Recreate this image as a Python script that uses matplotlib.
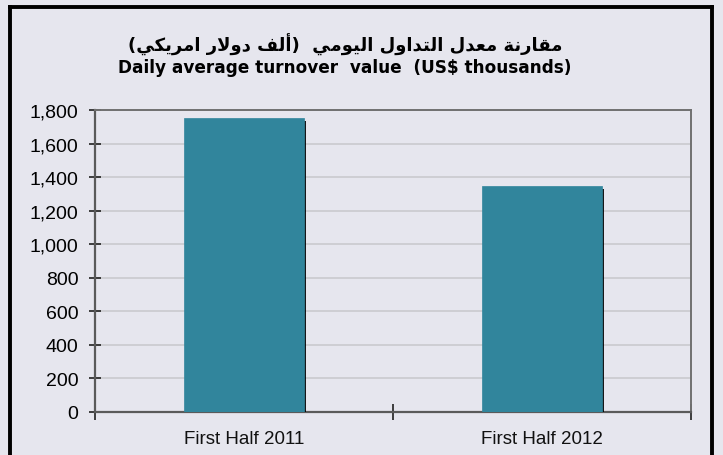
import matplotlib
matplotlib.use('Agg')
import matplotlib.pyplot as plt
import matplotlib.patheffects as pe
from matplotlib.lines import Line2D
from matplotlib.ticker import StrMethodFormatter, FixedLocator

# Data
categories = ['First Half 2011', 'First Half 2012']
values = [1752, 1347]

title_ar = 'مقارنة معدل التداول اليومي  (ألف دولار امريكي)'
title_en = 'Daily average turnover  value  (US$ thousands)'

# --- minimal Arabic shaping (matplotlib has no RTL/joining support) ---
FORMS = {  # isolated, final, initial, medial
    'ا': (0xFE8D, 0xFE8E, None, None),
    'أ': (0xFE83, 0xFE84, None, None),
    'د': (0xFEA9, 0xFEAA, None, None),
    'ر': (0xFEAD, 0xFEAE, None, None),
    'و': (0xFEED, 0xFEEE, None, None),
    'ة': (0xFE93, 0xFE94, None, None),
    'م': (0xFEE1, 0xFEE2, 0xFEE3, 0xFEE4),
    'ق': (0xFED5, 0xFED6, 0xFED7, 0xFED8),
    'ن': (0xFEE5, 0xFEE6, 0xFEE7, 0xFEE8),
    'ع': (0xFEC9, 0xFECA, 0xFECB, 0xFECC),
    'ل': (0xFEDD, 0xFEDE, 0xFEDF, 0xFEE0),
    'ت': (0xFE95, 0xFE96, 0xFE97, 0xFE98),
    'ي': (0xFEF1, 0xFEF2, 0xFEF3, 0xFEF4),
    'ف': (0xFED1, 0xFED2, 0xFED3, 0xFED4),
    'ك': (0xFED9, 0xFEDA, 0xFEDB, 0xFEDC),
}
LAM_ALEF = {'ا': (0xFEFB, 0xFEFC), 'أ': (0xFEF7, 0xFEF8)}
MIRROR = {'(': ')', ')': '('}


def joins_next(c):
    return c in FORMS and FORMS[c][2] is not None


def shape(text):
    out = []
    i = 0
    n = len(text)
    while i < n:
        c = text[i]
        prev = text[i - 1] if i > 0 else ''
        from_prev = joins_next(prev)
        if c == 'ل' and i + 1 < n and text[i + 1] in LAM_ALEF:
            out.append(chr(LAM_ALEF[text[i + 1]][1 if from_prev else 0]))
            i += 2
            continue
        if c in FORMS:
            iso, fin, ini, med = FORMS[c]
            to_next = joins_next(c) and i + 1 < n and text[i + 1] in FORMS
            if from_prev and to_next:
                g = med
            elif from_prev:
                g = fin
            elif to_next:
                g = ini
            else:
                g = iso
            out.append(chr(g))
        else:
            out.append(MIRROR.get(c, c))
        i += 1
    return ''.join(reversed(out))


bg = '#E6E6EE'
bar_color = '#31859C'

fig = plt.figure(figsize=(7.23, 4.56), dpi=100, facecolor=bg)
W, H = 723, 456
ax = fig.add_axes([95 / W, (H - 413) / H, (691 - 95) / W, (413 - 111) / H])
ax.set_facecolor(bg)

x = list(range(len(categories)))
bars = ax.bar(x, values, width=0.40, color=bar_color, zorder=3,
              edgecolor=bar_color, linewidth=0.5)
for b in bars:
    b.set_path_effects([pe.SimplePatchShadow(offset=(2, -2), shadow_rgbFace='black', alpha=0.9),
                        pe.Normal()])

ax.set_xlim(-0.5, len(categories) - 0.5)
ax.set_ylim(0, 1800)
ax.set_yticks(range(0, 1801, 200))
ax.yaxis.set_major_formatter(StrMethodFormatter('{x:,.0f}'))
ax.yaxis.grid(True, color='#CACACE', linewidth=1.2, zorder=0)
ax.set_axisbelow(True)

ax.xaxis.set_major_locator(FixedLocator([-0.5, 0.5, 1.5]))
ax.xaxis.set_minor_locator(FixedLocator(x))
ax.set_xticklabels(['', '', ''])
ax.set_xticklabels(categories, minor=True)
ax.tick_params(axis='x', which='major', direction='inout', length=11, width=1.2, color='#202020')
ax.tick_params(axis='x', which='minor', length=0, pad=13,
               labelsize=13.5, labelcolor='#111111')
ax.tick_params(axis='y', direction='inout', length=8, width=1.2, color='#202020',
               labelsize=14, pad=8)
for lab in ax.get_xticklabels(minor=True) + ax.get_yticklabels():
    lab.set_fontfamily('Liberation Sans')

for side in ['left', 'bottom']:
    ax.spines[side].set_color('#5A5A5A')
    ax.spines[side].set_linewidth(1.6)
for side in ['top', 'right']:
    ax.spines[side].set_color('#707070')
    ax.spines[side].set_linewidth(1.4)

# Titles
fig.text(345 / W, 1 - 45 / H, shape(title_ar), ha='center', va='center',
         fontsize=13, fontweight='bold', family=['DejaVu Sans'])
fig.text(345 / W, 1 - 68 / H, title_en, ha='center', va='center',
         fontsize=12.2, fontweight='bold', family=['DejaVu Sans'])

# outer frame (bottom edge lies outside the image)
frame = dict(color='black', linewidth=2.8, transform=fig.transFigure)
fig.add_artist(Line2D([9.5 / W, 9.5 / W], [0, 1 - 7.5 / H], **frame))
fig.add_artist(Line2D([711.5 / W, 711.5 / W], [0, 1 - 7.5 / H], **frame))
fig.add_artist(Line2D([9.5 / W, 711.5 / W], [1 - 7.5 / H, 1 - 7.5 / H], **frame))

fig.savefig('out.png', dpi=100, facecolor=bg)
